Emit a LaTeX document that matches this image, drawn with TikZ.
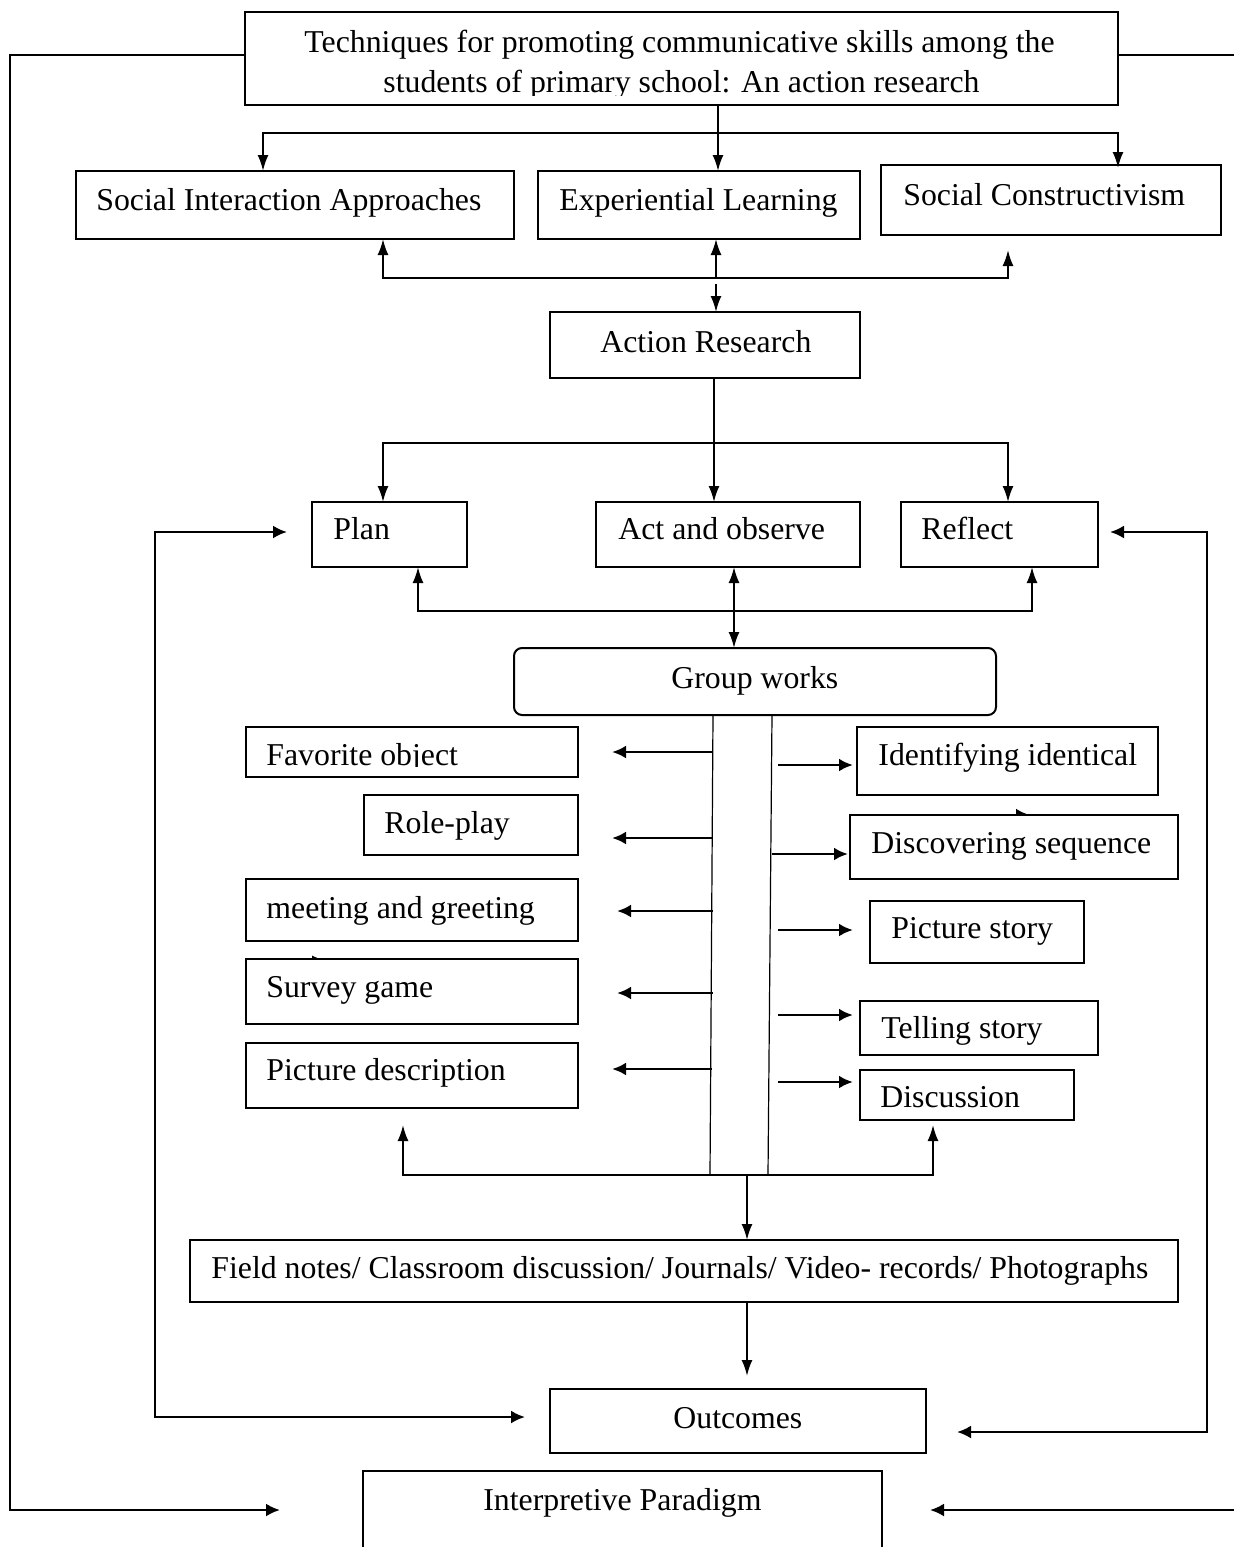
\documentclass[tikz,border=0pt]{standalone}
\usepackage{fontspec}
\setmainfont{Liberation Serif}
\usetikzlibrary{arrows.meta}
\tikzset{
  ln/.style={line width=1pt},
  thinln/.style={line width=0.6pt},
  arr/.style={ln,-{Latex[length=8pt,width=5.5pt]}},
  arrb/.style={ln,{Latex[length=8pt,width=5.5pt]}-{Latex[length=8pt,width=5.5pt]}},
  larrb/.style={line width=1.2pt,{Latex[length=7pt,width=6.5pt]}-{Latex[length=7pt,width=6.5pt]}},
  larr/.style={line width=1.2pt,-{Latex[length=7pt,width=6.5pt]}},
  sarr/.style={line width=1.4pt,-{Latex[length=7pt,width=6.5pt]}},
  boxst/.style={draw,line width=1pt,fill=white,inner sep=0pt,outer sep=0pt},
  txt/.style={anchor=base west,inner sep=0pt,font=\fontsize{15.9}{19}\selectfont}
}
\newcommand{\mybox}[6][]{\node[boxst,#1,minimum width={(#5-#3)*0.5pt},minimum height={(#6-#4)*0.5pt}] (#2) at ({(#3+#5)/2},{(#4+#6)/2}) {};}
\newcommand{\mytxt}[4]{\node[txt] (#1) at (#2,#3) {#4};}
\begin{document}
\begin{tikzpicture}[x=0.5pt,y=-0.5pt]
\useasboundingbox (0,0) rectangle (1234,1547);
% stray connector remnants (drawn under boxes)
\coordinate (s1a) at (958,815); \coordinate (s1b) at (1030,815);
\draw[sarr] (s1a) -- (s1b);
\coordinate (s2a) at (300,961); \coordinate (s2b) at (328,961);
\draw[arr] (s2a) -- (s2b);
% boxes
\mybox{title}{245}{12}{1118}{105}
\mybox{sia}{76}{171}{514}{239}
\mybox{el}{538}{171}{860}{239}
\mybox{sc}{881}{165}{1221}{235}
\mybox{ar}{550}{312}{860}{378}
\mybox{plan}{312}{502}{467}{567}
\mybox{ao}{596}{502}{860}{567}
\mybox{rf}{901}{502}{1098}{567}
\mybox[rounded corners=4pt]{gw}{514}{648}{996}{715}
\mybox{fo}{246}{727}{578}{777}
\mybox{rp}{364}{795}{578}{855}
\mybox{mg}{246}{879}{578}{941}
\mybox{sg}{246}{959}{578}{1024}
\mybox{pd}{246}{1043}{578}{1108}
\mybox{ii}{857}{727}{1158}{795}
\mybox{ds}{850}{815}{1178}{879}
\mybox{ps}{870}{901}{1084}{963}
\mybox{ts}{860}{1001}{1098}{1055}
\mybox{disc}{860}{1070}{1074}{1120}
\mybox{fn}{190}{1240}{1178}{1302}
\mybox{out}{550}{1389}{926}{1453}
\mybox{ip}{363}{1471}{882}{1570}
% texts
\begin{scope}
\clip (250,14) rectangle (1115,95);
\mytxt{t1}{304}{52}{Techniques for promoting communicative skills among the}
\mytxt{t2}{383}{92}{students of primary school: An action research}
\end{scope}
\mytxt{tsia}{96}{210}{Social Interaction Approaches}
\mytxt{tel}{559}{210}{Experiential Learning}
\mytxt{tsc}{903}{205}{Social Constructivism}
\mytxt{tar}{600}{352}{Action Research}
\mytxt{tplan}{333}{539}{Plan}
\mytxt{tao}{618}{539}{Act and observe}
\mytxt{trf}{921}{539}{Reflect}
\mytxt{tgw}{671}{688}{Group works}
\begin{scope}
\clip (250,730) rectangle (575,766);
\mytxt{tfo}{266}{765}{Favorite object}
\end{scope}
\mytxt{trp}{384}{833}{Role-play}
\mytxt{tmg}{266}{918}{meeting and greeting}
\mytxt{tsg}{266}{997}{Survey game}
\mytxt{tpd}{266}{1080}{Picture description}
\mytxt{tii}{878}{765}{Identifying identical}
\mytxt{tds}{871}{853}{Discovering sequence}
\mytxt{tps}{891}{938}{Picture story}
\mytxt{tts}{881}{1038}{Telling story}
\mytxt{tdisc}{880}{1107}{Discussion}
\mytxt{tfn}{211}{1278}{Field notes/ Classroom discussion/ Journals/ Video- records/ Photographs}
\mytxt{tout}{673}{1428}{Outcomes}
\mytxt{tip}{483}{1510}{Interpretive Paradigm}
% outer loop
\coordinate (ipL) at (280,1510);
\coordinate (ipR) at (930,1510);
\coordinate (edgeR) at (1240,55);
\coordinate (edgeR2) at (1240,1510);
\draw[larr] ([yshift=1.75pt]title.west) -| (10,1510) -- (ipL);
\draw[ln] ([yshift=1.75pt]title.east) -- (edgeR);
\draw[larr] (edgeR2) -- (ipR);
% title to first row
\coordinate (j1) at (718,133);
\draw[ln] (title.south -| j1) -- (j1);
\draw[arr] (j1) -- (el.north -| j1);
\draw[arr] (j1) -| (sia.north -| 263,0);
\draw[arr] (j1) -| ([yshift=-1.5pt]sc.north -| 1118,0);
% first row to action research
\coordinate (j2) at (716,278);
\coordinate (j2b) at (716,284);
\coordinate (scgap) at (1008,250);
\draw[arr] (j2) -- (el.south -| j2);
\draw[arr] (j2) -| (sia.south -| 383,0);
\draw[arr] (j2) -| (scgap);
\draw[arr] (j2b) -- (ar.north -| j2b);
% action research to second row
\coordinate (j3) at (714,443);
\draw[arr] (ar.south -| j3) -- (ao.north -| j3);
\draw[arr] (j3) -| (plan.north -| 383,0);
\draw[arr] (j3) -| (rf.north -| 1008,0);
% second row to group works
\coordinate (j4) at (734,611);
\draw[arrb] (ao.south -| j4) -- (gw.north -| j4);
\draw[arr] (j4) -| (plan.south -| 418,0);
\draw[arr] (j4) -| (rf.south -| 1032,0);
% feedback loops
\draw[larrb, shorten <=12.5pt, shorten >=12.5pt] ([yshift=1.25pt]plan.west) -| (155,1417) -- (out.west |- 0,1417);
\draw[larrb, shorten <=6pt, shorten >=15.5pt] ([yshift=1.25pt]rf.east) -| (1207,1432) -- (out.east |- 0,1432);
% group works trunk
\draw[thinln] (gw.south -| 713,0) -- (710,1175);
\draw[thinln] (gw.south -| 772,0) -- (768,1175);
\coordinate (j5) at (747,1175);
\draw[arr, shorten >=8.5pt] (j5) -| (pd.south -| 403,0);
\draw[arr, shorten >=2.5pt] (j5) -| (disc.south -| 933,0);
\draw[arr] (j5) -- (fn.north -| j5);
\draw[arr, shorten >=6.5pt] (fn.south -| j5) -- (out.north -| j5);
% left branches
\draw[sarr, shorten >=17pt] (712,752) -- (fo.east |- 0,752);
\draw[sarr, shorten >=17pt] (712,838) -- (rp.east |- 0,838);
\draw[sarr, shorten >=19.5pt] (713,911) -- (mg.east |- 0,911);
\draw[sarr, shorten >=19.5pt] (713,993) -- (sg.east |- 0,993);
\draw[sarr, shorten >=17pt] (712,1069) -- (pd.east |- 0,1069);
% right branches
\draw[sarr, shorten >=2pt] (778,765) -- (ii.west |- 0,765);
\draw[sarr, shorten >=1pt] (772,854) -- (ds.west |- 0,854);
\draw[sarr, shorten >=8.5pt] (778,930) -- (ps.west |- 0,930);
\draw[sarr, shorten >=3.5pt] (778,1015) -- (ts.west |- 0,1015);
\draw[sarr, shorten >=3.5pt] (778,1082) -- (disc.west |- 0,1082);
\end{tikzpicture}
\end{document}
